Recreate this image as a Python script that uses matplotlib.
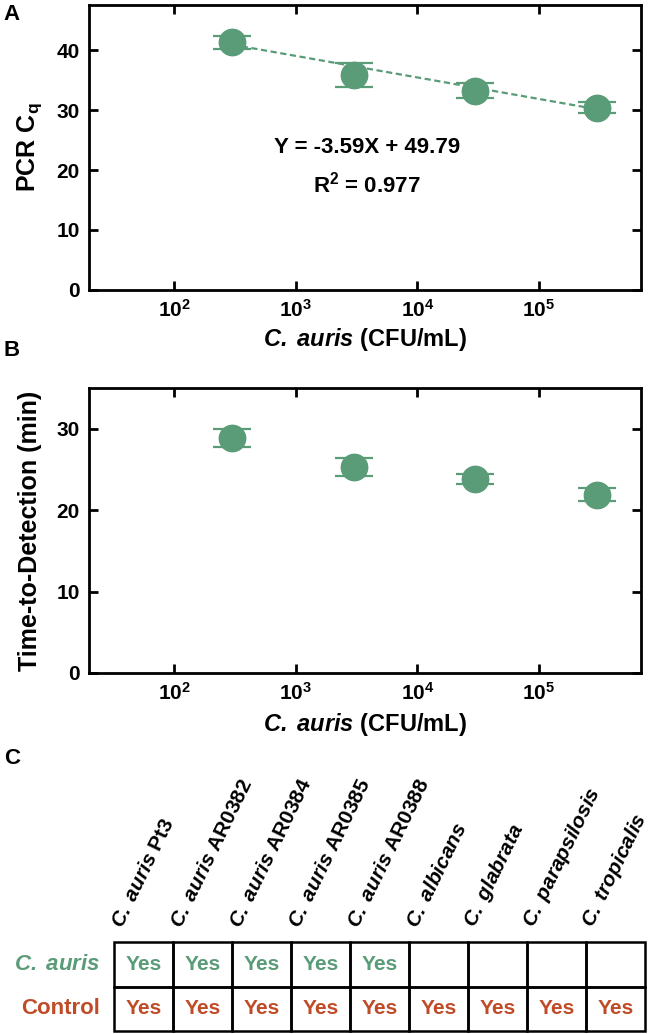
import numpy as np
import matplotlib.pyplot as plt
from matplotlib.patches import Rectangle
from matplotlib.ticker import FixedLocator, FixedFormatter

plt.rcParams['font.family'] = ['Liberation Sans', 'DejaVu Sans']
plt.rcParams['font.weight'] = 'bold'
plt.rcParams['axes.labelweight'] = 'bold'
plt.rcParams['mathtext.fontset'] = 'custom'
plt.rcParams['mathtext.rm'] = 'Liberation Sans:bold'
plt.rcParams['mathtext.bf'] = 'Liberation Sans:bold'
plt.rcParams['mathtext.it'] = 'Liberation Sans:italic:bold'
plt.rcParams['mathtext.bfit'] = 'Liberation Sans:italic:bold'
plt.rcParams['mathtext.default'] = 'bf'

green = '#5a9b78'
red = '#c04b27'

# data
conc = [3e2, 3e3, 3e4, 3e5]
cq = [41.3, 35.9, 33.2, 30.4]
cq_err = [1.05, 2.0, 1.25, 0.95]
slope, intercept = -3.59, 49.79
ttd = [28.9, 25.3, 23.8, 21.9]
ttd_err = [1.1, 1.1, 0.65, 0.8]

xtick_vals = [1e2, 1e3, 1e4, 1e5]
xtick_labels = [r'$10^{2}$', r'$10^{3}$', r'$10^{4}$', r'$10^{5}$']

CA = r'$\mathbfit{C.\;auris}$'
strains = [CA + ' Pt3', CA + ' AR0382', CA + ' AR0384', CA + ' AR0385',
           CA + ' AR0388', r'$\mathbfit{C.\;albicans}$',
           r'$\mathbfit{C.\;glabrata}$', r'$\mathbfit{C.\;parapsilosis}$',
           r'$\mathbfit{C.\;tropicalis}$']
row_names = [CA, 'Control']
row_colors = [green, red]
auris_hits = ['Yes', 'Yes', 'Yes', 'Yes', 'Yes', '', '', '', '']
control_hits = ['Yes'] * 9

fig = plt.figure(figsize=(6.52, 10.34), dpi=100)
W, H = 652, 1034


def style_axes(ax, ymax, yticks):
    ax.set_xscale('log')
    ax.set_xlim(20, 6.9e5)
    ax.set_ylim(0, ymax)
    ax.xaxis.set_major_locator(FixedLocator(xtick_vals))
    ax.xaxis.set_major_formatter(FixedFormatter(xtick_labels))
    ax.xaxis.set_minor_locator(FixedLocator([]))
    ax.set_yticks(yticks)
    ax.tick_params(direction='in', top=True, right=True, length=6.5, width=2,
                   labelsize=15, pad=6.5)
    for s in ax.spines.values():
        s.set_linewidth(2)
    ax.set_xlabel(CA + ' (CFU/mL)', fontsize=17, va='center')


# A
axA = fig.add_axes([89 / W, 1 - 290 / H, 552 / W, 285 / H])
axA.errorbar(conc, cq, yerr=cq_err, fmt='o', ms=19, color=green, ecolor=green,
             capsize=13.5, capthick=1.6, elinewidth=1.6)
xf = np.array([conc[0], conc[-1]])
axA.plot(xf, slope * np.log10(xf) + intercept, color=green, lw=1.6,
         ls=(0, (2.8, 1.6)))
style_axes(axA, 47.5, [0, 10, 20, 30, 40])
axA.set_ylabel(r'PCR C$_{q}$', fontsize=18, va='center')
axA.yaxis.set_label_coords(-0.107, 0.5)
axA.xaxis.set_label_coords(0.5, -0.175)
axA.text(0.503, 0.5, 'Y = -3.59X + 49.79', transform=axA.transAxes,
         ha='center', va='center', fontsize=16)
axA.text(0.503, 0.37, r'R$^{2}$ = 0.977', transform=axA.transAxes,
         ha='center', va='center', fontsize=16)

# B
axB = fig.add_axes([89 / W, 1 - 673 / H, 552 / W, 285 / H])
axB.errorbar(conc, ttd, yerr=ttd_err, fmt='o', ms=19, color=green, ecolor=green,
             capsize=13.5, capthick=1.6, elinewidth=1.6)
style_axes(axB, 35, [0, 10, 20, 30])
axB.set_ylabel('Time-to-Detection (min)', fontsize=18, va='center')
axB.yaxis.set_label_coords(-0.107, 0.5)
axB.xaxis.set_label_coords(0.5, -0.182)

# C table
axC = fig.add_axes([114 / W, 1 - 1031 / H, 531 / W, 89 / H])
axC.set_xlim(0, len(strains))
axC.set_ylim(0, 2)
axC.axis('off')
rows = [control_hits, auris_hits]
for r, hits in enumerate(rows):
    color = row_colors[1 - r]
    for c, val in enumerate(hits):
        axC.add_patch(Rectangle((c, r), 1, 1, fill=False, lw=1.8, ec='black',
                                clip_on=False))
        axC.text(c + 0.5, r + 0.5, val, ha='center', va='center',
                 fontsize=15, color=color)
    axC.text(-0.24, r + 0.5, row_names[1 - r], ha='right', va='center',
             fontsize=16, color=color)
for c, name in enumerate(strains):
    axC.text(c + 0.2, 2.25, name, rotation=64, rotation_mode='anchor',
             ha='left', va='bottom', fontsize=15)

for lab, y in [('A', 15), ('B', 350), ('C', 758)]:
    fig.text(12 / W, 1 - y / H, lab, fontsize=16, ha='center', va='center')

fig.savefig('out.png', dpi=100)
